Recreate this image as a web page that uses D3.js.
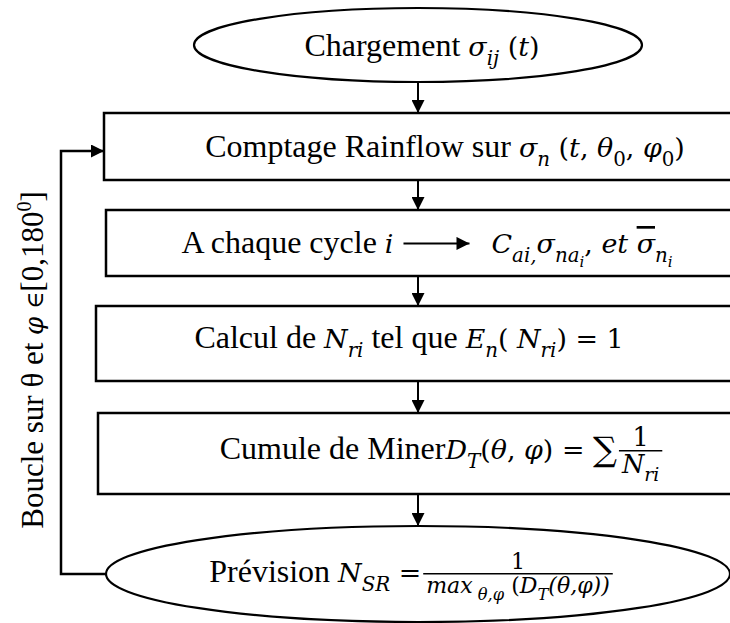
<!DOCTYPE html>
<html>
<head>
<meta charset="utf-8">
<script src="https://cdn.jsdelivr.net/npm/d3@7"></script>
<style>
  body { margin: 0; background: #fff; }
  text { font-family: "Liberation Serif", "Times New Roman", serif; fill: #000; }
</style>
</head>
<body>
<div id="chart"></div>
<script>
// Labels of the flowchart, as rich text runs: [text, style]
// r = roman text, m = upright math, i = italic math, s = italic subscript, sm = upright subscript,
// ss = sub-subscript, sup = superscript, ib = italic math with overbar, big = large operator
let startLabel = [["Chargement ", "r"], ["σ", "i"], ["ij", "s"], [" (", "m"], ["t", "i"], [")", "m"]];

let stepLabels = [
  [["Comptage Rainflow sur ", "r"], ["σ", "i"], ["n", "s"], [" (", "m"], ["t", "i"], [", ", "m"],
   ["θ", "i"], ["0", "sm"], [", ", "m"], ["φ", "i"], ["0", "sm"], [")", "m"]],
  [["A chaque cycle ", "r"], ["i", "i"], ["ARROW", "arrow"], ["C", "i"], ["ai,", "s"], ["σ", "i"], ["na", "s"],
   ["i", "ss"], [", ", "m"], ["et  ", "i"], ["σ", "ib"], ["n", "s"], ["i", "ss"]],
  [["Calcul de ", "r"], ["N", "i"], ["ri", "s"], ["  tel que ", "r"], ["E", "i"], ["n", "s"], ["( ", "m"],
   ["N", "i"], ["ri", "s"], [") = 1", "m"]],
  [["Cumule de Miner", "r"], ["D", "i"], ["T", "s"], ["(", "m"], ["θ", "i"], [", ", "m"], ["φ", "i"], [") = ", "m"],
   ["∑", "big"], ["FRAC", "frac", [["1", "m"]], [["N", "i"], ["ri", "s"]], 0.95]]
];

let endLabel = [["Prévision ", "r"], ["N", "i"], ["SR", "s"], [" = ", "m"],
  ["FRAC", "frac", [["1", "m"]], [["max", "i"], [" θ,φ", "s"], [" (", "m"], ["D", "i"], ["T", "s"], ["(θ,φ))", "i"]], 0.82]];

let loopLabel = [["Boucle sur  θ et ", "r"], ["φ", "i"], [" ", "r"], ["∈", "el"], ["[0,180", "r"], ["0", "sup"], ["]", "r"]];

// Layout
let W = 730, H = 623;
let cx = 418;
let boxes = [
  { x: 104, y: 113, h: 67, tx: 445, base: 157 },
  { x: 106, y: 210, h: 66, tx: 427, base: 253 },
  { x: 96, y: 306, h: 75, tx: 409, base: 348 },
  { x: 98, y: 413, h: 81, tx: 441, base: 459 }
];
let topEll = { cx: cx, cy: 45, rx: 224, ry: 37, tx: 422, base: 56 };
let botEll = { cx: cx, cy: 574, rx: 312, ry: 48, tx: 411, base: 582 };
let fs = 32;
let mathFont = "DejaVu Serif";
let mk = 0.84; // math glyphs relative to roman size

let svg = d3.select("#chart").append("svg").attr("width", W).attr("height", H);

svg.append("defs").append("marker")
  .attr("id", "head")
  .attr("viewBox", "0 0 10 10")
  .attr("refX", 10).attr("refY", 5)
  .attr("markerWidth", 14).attr("markerHeight", 13)
  .attr("markerUnits", "userSpaceOnUse")
  .attr("orient", "auto")
  .append("path").attr("d", "M0,0 L10,5 L0,10 Z").attr("fill", "#000");

// write a run of styled segments into a text element
function addRuns(g, runs, size) {
  let t = g.append("text").attr("font-size", size).attr("font-family", "Liberation Serif");
  let shift = 0;
  runs.forEach(([s, st]) => {
    let isSub = st === "s" || st === "sm";
    let target = isSub ? 0.27 : st === "ss" ? 0.45 : st === "sup" ? -0.4 : st === "big" ? 0.06 : 0;
    let sz = isSub ? size * 0.62 : st === "ss" ? size * 0.47 : st === "sup" ? size * 0.65
      : st === "r" ? size : st === "big" ? size * 1.05 : st === "el" ? size * 0.75 : size * mk;
    let tsp = t.append("tspan")
      .attr("dy", (target - shift) * size)
      .attr("font-size", sz)
      .attr("font-style", st === "i" || st === "s" || st === "ss" || st === "ib" ? "italic" : "normal")
      .text(s);
    if (st !== "r" && st !== "sup") tsp.attr("font-family", mathFont);
    if (st === "ib") tsp.style("text-decoration", "overline");
    shift = target;
  });
  return t;
}

// lay out a row of runs / arrows / fractions centred at (x0, y0 baseline)
function drawRow(parent, x0, y0, items, size) {
  let g = parent.append("g");
  let x = 0;
  let buf = [];
  function flush() {
    if (!buf.length) return;
    let t = addRuns(g, buf, size).attr("x", x).attr("y", 0);
    x += t.node().getComputedTextLength();
    buf = [];
  }
  items.forEach(it => {
    if (it[1] === "arrow") {
      flush();
      g.append("line")
        .attr("x1", x + 10).attr("x2", x + 76)
        .attr("y1", -size * 0.3).attr("y2", -size * 0.3)
        .attr("stroke", "#000").attr("stroke-width", 2)
        .attr("marker-end", "url(#head)");
      x += 98;
    } else if (it[1] === "frac") {
      flush();
      let k = it[4] || 0.72;
      let num = addRuns(g, it[2], size * k).attr("text-anchor", "middle");
      let den = addRuns(g, it[3], size * k).attr("text-anchor", "middle");
      let w = Math.max(num.node().getComputedTextLength(), den.node().getComputedTextLength()) + 6;
      let axis = -size * 0.26;
      num.attr("x", x + w / 2 + 2).attr("y", axis - size * 0.14);
      den.attr("x", x + w / 2 + 2).attr("y", axis + size * k * 0.72);
      g.append("line")
        .attr("x1", x + 2).attr("x2", x + w + 2)
        .attr("y1", axis).attr("y2", axis)
        .attr("stroke", "#000").attr("stroke-width", 1.4);
      x += w + 2;
    } else {
      buf.push(it);
    }
  });
  flush();
  g.attr("transform", `translate(${x0 - x / 2},${y0})`);
  return g;
}

// Top ellipse
svg.append("ellipse")
  .attr("cx", topEll.cx).attr("cy", topEll.cy).attr("rx", topEll.rx).attr("ry", topEll.ry)
  .attr("fill", "#fff").attr("stroke", "#000").attr("stroke-width", 2.2);
drawRow(svg, topEll.tx, topEll.base, startLabel, fs);

// Process boxes
boxes.forEach((b, i) => {
  svg.append("rect")
    .attr("x", b.x).attr("y", b.y)
    .attr("width", W + 10 - b.x).attr("height", b.h)
    .attr("fill", "#fff").attr("stroke", "#000").attr("stroke-width", 2.5);
  drawRow(svg, b.tx, b.base, stepLabels[i], fs);
});

// Bottom ellipse
svg.append("ellipse")
  .attr("cx", botEll.cx).attr("cy", botEll.cy).attr("rx", botEll.rx).attr("ry", botEll.ry)
  .attr("fill", "#fff").attr("stroke", "#000").attr("stroke-width", 2.2);
drawRow(svg, botEll.tx, botEll.base, endLabel, fs);

// Vertical arrows between shapes
let stops = [topEll.cy + topEll.ry];
boxes.forEach(b => { stops.push(b.y); stops.push(b.y + b.h); });
stops.push(botEll.cy - botEll.ry);
for (let i = 0; i < stops.length; i += 2) {
  svg.append("line")
    .attr("x1", cx).attr("x2", cx)
    .attr("y1", stops[i]).attr("y2", stops[i + 1])
    .attr("stroke", "#000").attr("stroke-width", 2)
    .attr("marker-end", "url(#head)");
}

// Loop back line
let loopX = 61, loopTop = 151;
svg.append("path")
  .attr("d", `M${botEll.cx - botEll.rx},${botEll.cy} H${loopX} V${loopTop} H${boxes[0].x}`)
  .attr("fill", "none").attr("stroke", "#000").attr("stroke-width", 2.5)
  .attr("marker-end", "url(#head)");

// Loop label (vertical)
let lab = svg.append("g").attr("transform", "translate(43,360) rotate(-90)");
addRuns(lab, loopLabel, 31).attr("text-anchor", "middle");
</script>
</body>
</html>
